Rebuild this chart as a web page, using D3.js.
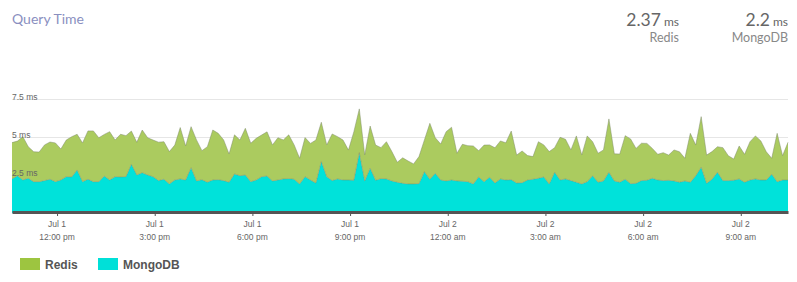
<!DOCTYPE html>
<html>
<head>
<meta charset="utf-8">
<script src="https://cdn.jsdelivr.net/npm/d3@7"></script>
<style>
  body { margin: 0; background: #fff; }
  svg { display: block; }
</style>
</head>
<body>
<svg id="chart" width="797" height="282"></svg>
<script>
// query time samples, 10 min apart, in ms
const startTime = new Date(2019, 6, 1, 10, 37)
const stepMinutes = 10

const mongoValues = [
  2.24, 2.45, 2.17, 2.28, 2.06, 2.06, 2.13, 2.22, 2.06, 2.17,
  2.39, 2.37, 2.83, 2.06, 2.22, 2.06, 2.06, 2.43, 2.17, 2.39,
  2.37, 2.39, 3.20, 2.50, 2.65, 2.50, 2.39, 2.13, 2.22, 1.91,
  2.17, 2.24, 2.17, 2.98, 2.11, 2.19, 2.02, 2.17, 2.19, 2.13,
  2.02, 2.57, 2.45, 2.50, 2.06, 2.17, 2.39, 2.43, 2.11, 2.17,
  2.24, 2.26, 2.22, 1.91, 2.39, 2.17, 1.97, 3.38, 2.39, 2.13,
  2.24, 2.17, 2.17, 2.15, 3.97, 2.11, 2.94, 2.15, 2.26, 2.24,
  2.11, 2.02, 1.95, 1.91, 1.91, 1.93, 2.72, 2.22, 2.61, 2.17,
  2.11, 2.17, 2.11, 2.09, 2.06, 1.91, 2.37, 2.06, 2.35, 1.97,
  2.24, 2.17, 2.19, 1.97, 1.99, 2.17, 2.22, 2.28, 2.37, 1.91,
  2.68, 2.17, 2.24, 2.13, 2.02, 1.91, 2.06, 2.45, 2.02, 2.11,
  2.68, 2.11, 2.02, 2.22, 1.93, 1.95, 2.13, 2.15, 2.28, 2.17,
  2.13, 2.15, 2.11, 2.02, 2.11, 2.02, 2.45, 3.01, 1.95, 2.22,
  2.68, 2.13, 2.13, 2.15, 2.24, 2.02, 2.17, 2.24, 2.17, 2.17,
  2.55, 2.06, 2.17, 2.17
]

const redisValues = [
  2.39, 2.28, 2.85, 2.08, 1.97, 1.95, 2.35, 2.45, 2.55, 2.04,
  2.41, 2.65, 2.35, 2.55, 3.18, 3.34, 2.89, 2.74, 3.18, 2.41,
  2.81, 2.70, 2.19, 2.15, 2.81, 2.45, 2.41, 2.53, 2.47, 2.13,
  2.30, 3.38, 2.24, 2.70, 2.70, 1.91, 2.34, 3.29, 3.05, 2.68,
  1.86, 2.57, 2.35, 3.07, 2.53, 2.74, 2.74, 2.91, 2.37, 2.78,
  2.57, 2.88, 2.26, 1.69, 2.57, 2.41, 2.83, 2.59, 2.09, 3.07,
  2.78, 2.63, 1.97, 3.20, 2.88, 1.71, 2.78, 2.32, 2.04, 2.45,
  1.93, 1.32, 1.68, 1.51, 1.32, 1.78, 2.09, 3.68, 2.34, 2.37,
  3.24, 3.47, 1.82, 2.43, 2.37, 2.50, 1.73, 2.41, 2.13, 2.32,
  2.50, 2.45, 3.20, 1.84, 2.09, 1.61, 1.49, 2.41, 2.11, 2.13,
  1.62, 2.81, 2.61, 2.02, 3.05, 1.91, 3.01, 2.24, 1.91, 2.04,
  3.51, 1.78, 1.86, 2.87, 2.94, 2.30, 2.46, 2.43, 1.97, 1.69,
  1.84, 1.66, 2.04, 2.01, 1.49, 3.22, 2.02, 3.33, 1.86, 1.82,
  1.68, 2.17, 1.64, 1.40, 2.17, 1.84, 2.52, 2.83, 2.57, 1.86,
  1.05, 3.18, 1.60, 2.48
]

const yTicks = [2.5, 5, 7.5]
const seriesNames = ['Redis', 'MongoDB']
const seriesAverages = ['2.37', '2.2']

const redisColor = '#abcb5f'
const mongoColor = '#00e2da'
const legendRedis = '#9dc540'
const legendMongo = '#00e0d8'

const svg = d3.select('#chart')
const left = 12, right = 788
const y0 = 213

const data = mongoValues.map((m, i) => ({
  date: d3.timeMinute.offset(startTime, i * stepMinutes),
  mongo: m,
  redis: redisValues[i]
}))

const x = d3.scaleTime()
  .domain(d3.extent(data, d => d.date))
  .range([left, right])

const y = d3.scaleLinear()
  .domain([0, 7.5])
  .range([y0, 99])

// grid lines behind the areas
svg.append('g')
  .selectAll('line')
  .data(yTicks)
  .join('line')
  .attr('x1', left)
  .attr('x2', right)
  .attr('y1', d => y(d) + 0.5)
  .attr('y2', d => y(d) + 0.5)
  .attr('stroke', '#e6e6e6')

const stack = d3.stack().keys(['mongo', 'redis'])
const layers = stack(data)

const area = d3.area()
  .x(d => x(d.data.date))
  .y0(d => y(d[0]))
  .y1(d => y(d[1]))

const topLine = d3.line()
  .x(d => x(d.data.date))
  .y(d => y(d[1]))

svg.append('g')
  .selectAll('path')
  .data(layers)
  .join('path')
  .attr('fill', d => d.key == 'redis' ? redisColor : mongoColor)
  .attr('d', area)

svg.append('g')
  .selectAll('path')
  .data(layers)
  .join('path')
  .attr('fill', 'none')
  .attr('stroke', '#7d8a6a')
  .attr('stroke-opacity', 0.6)
  .attr('stroke-width', 0.8)
  .attr('d', topLine)

// y labels sit on the grid lines
svg.append('g')
  .selectAll('text')
  .data(yTicks)
  .join('text')
  .attr('x', left)
  .attr('y', d => y(d) + 0.5)
  .attr('font-family', 'Liberation Sans, Arial, sans-serif')
  .attr('font-size', 8.5)
  .attr('fill', '#666')
  .text(d => d + ' ms')

// x axis
const fmtDay = d3.timeFormat('%b %-d')
const fmtHour = d => d3.timeFormat('%-I:%M %p')(d).toLowerCase()

const xAxis = svg.append('g')
  .attr('transform', `translate(0,${y0 - 1})`)
  .call(d3.axisBottom(x)
    .ticks(d3.timeHour.every(3))
    .tickSize(4)
    .tickSizeOuter(0)
    .tickFormat(''))

xAxis.select('.domain')
  .attr('stroke', '#555')
  .attr('stroke-width', 3)
xAxis.selectAll('.tick line')
  .attr('stroke', '#555')

const tickDates = x.ticks(d3.timeHour.every(3))
const tickLabels = svg.append('g')
  .attr('font-family', 'Liberation Sans, Arial, sans-serif')
  .attr('font-size', 8.5)
  .attr('fill', '#666')
  .attr('text-anchor', 'middle')
tickLabels.selectAll('text.day')
  .data(tickDates)
  .join('text')
  .attr('class', 'day')
  .attr('x', d => x(d))
  .attr('y', 227)
  .text(fmtDay)
tickLabels.selectAll('text.hour')
  .data(tickDates)
  .join('text')
  .attr('class', 'hour')
  .attr('x', d => x(d))
  .attr('y', 240)
  .text(fmtHour)

// title
svg.append('text')
  .attr('x', 12)
  .attr('y', 24)
  .attr('font-family', 'Lato, sans-serif')
  .attr('font-size', 14)
  .attr('fill', '#8a8fbf')
  .text('Query Time')

// averages top right
const statX = [679, 788]
seriesNames.forEach((name, i) => {
  const t = svg.append('text')
    .attr('x', statX[i])
    .attr('y', 26)
    .attr('text-anchor', 'end')
    .attr('font-family', 'Lato, sans-serif')
    .attr('fill', '#666')
  t.append('tspan').attr('font-size', 17.5).text(seriesAverages[i])
  t.append('tspan').attr('font-size', 12).attr('dx', 3).text('ms')
  svg.append('text')
    .attr('x', statX[i])
    .attr('y', 42)
    .attr('text-anchor', 'end')
    .attr('font-family', 'Lato, sans-serif')
    .attr('font-size', 12.5)
    .attr('fill', '#888')
    .text(name)
})

// legend
const legendX = [20, 98]
const legendColors = [legendRedis, legendMongo]
seriesNames.forEach((name, i) => {
  svg.append('rect')
    .attr('x', legendX[i])
    .attr('y', 258)
    .attr('width', 20)
    .attr('height', 12)
    .attr('fill', legendColors[i])
  svg.append('text')
    .attr('x', legendX[i] + 25)
    .attr('y', 269)
    .attr('font-family', 'Liberation Sans, Arial, sans-serif')
    .attr('font-size', 12)
    .attr('font-weight', 'bold')
    .attr('fill', '#555')
    .text(name)
})
</script>
</body>
</html>
